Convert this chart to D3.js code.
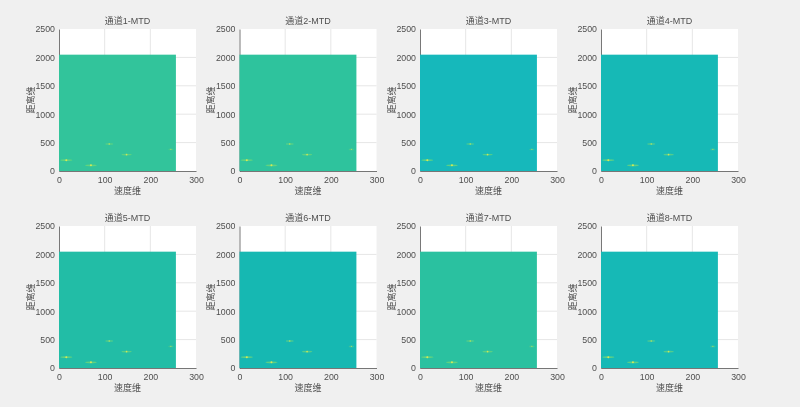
<!DOCTYPE html>
<html><head><meta charset="utf-8">
<script src="https://d3js.org/d3.v7.min.js"></script>
<style>html,body{margin:0;padding:0;background:#f0f0f0;overflow:hidden}svg{display:block}
text{font-family:"Liberation Sans","Noto Sans CJK SC",sans-serif;fill:#4f4f4f}</style></head><body>
<script>
const channels=["通道1-MTD","通道2-MTD","通道3-MTD","通道4-MTD","通道5-MTD","通道6-MTD","通道7-MTD","通道8-MTD"];
const fills=["#30c49b","#2fc39d","#12b8bb","#19b9b6","#22bda6","#19b8b2","#2cc1a0","#19b9b6"];
const imageExtent=[256,2048];
const xTicks=[0,100,200,300];
const yTicks=[0,500,1000,1500,2000,2500];
const xLabel="速度维", yLabel="距离维";
const peakX=[16,70,110,148,245];
const peakY=[190,100,475,290,380];
const peakStrength=[1,1,.65,.85,.45];
const colX=[59,239.5,420,601], rowY=[29,226], W=137, H=142;
const svg=d3.select("body").append("svg").attr("width",800).attr("height",407);
const defs=svg.append("defs");
defs.append("filter").attr("id","soft").append("feGaussianBlur").attr("stdDeviation",.35);
defs.append("filter").attr("id","glow").attr("x","-100%").attr("y","-200%").attr("width","300%").attr("height","500%").append("feGaussianBlur").attr("stdDeviation",.7);
channels.forEach((name,i)=>{
  const g=svg.append("g").attr("transform",`translate(${colX[i%4]},${rowY[i<4?0:1]})`).attr("filter","url(#soft)");
  const x=d3.scaleLinear().domain([0,300]).range([0,W]);
  const y=d3.scaleLinear().domain([0,2500]).range([H,0]);
  g.append("rect").attr("width",W).attr("height",H).attr("fill","#fff");
  g.selectAll(".gx").data(xTicks.slice(1,-1)).join("line").attr("x1",x).attr("x2",x).attr("y1",0).attr("y2",H).attr("stroke","#e6e6e6");
  g.selectAll(".gy").data(yTicks.slice(1,-1)).join("line").attr("y1",y).attr("y2",y).attr("x1",0).attr("x2",W).attr("stroke","#e6e6e6");
  const ax=g.append("g").attr("transform",`translate(0,${H})`).call(d3.axisBottom(x).tickValues(xTicks).tickSize(0).tickPadding(5.5).tickFormat(d3.format("d")));
  const ay=g.append("g").call(d3.axisLeft(y).tickValues(yTicks).tickSize(0).tickPadding(4).tickFormat(d3.format("d")));
  [ax,ay].forEach(a=>{a.selectAll("text").attr("font-size",8.8).style("font-family",'"Liberation Sans"');a.select(".domain").attr("stroke","#555").attr("stroke-width",.8);});
  g.append("rect").attr("x",x(0)).attr("y",y(imageExtent[1])).attr("width",x(imageExtent[0])-x(0)).attr("height",y(0)-y(imageExtent[1])).attr("fill",fills[i]);
  const pk=g.append("g");
  peakX.forEach((px,k)=>{
    const s=peakStrength[k];
    pk.append("ellipse").attr("cx",x(px)).attr("cy",y(peakY[k])).attr("rx",6*s).attr("ry",.9).attr("fill","#7adb70").attr("opacity",.7*s).attr("filter","url(#glow)");
    pk.append("circle").attr("cx",x(px)).attr("cy",y(peakY[k])).attr("r",.8*s+.2).attr("fill","#dcea55").attr("opacity",.45+.5*s);
  });
  g.append("text").attr("x",W/2).attr("y",-5.5).attr("text-anchor","middle").attr("font-size",9).text(name);
  g.append("text").attr("x",W/2).attr("y",H+23).attr("text-anchor","middle").attr("font-size",9).text(xLabel);
  g.append("text").attr("transform",`translate(-25.5,${H/2}) rotate(-90)`).attr("text-anchor","middle").attr("font-size",9).text(yLabel);
});
</script></body></html>
